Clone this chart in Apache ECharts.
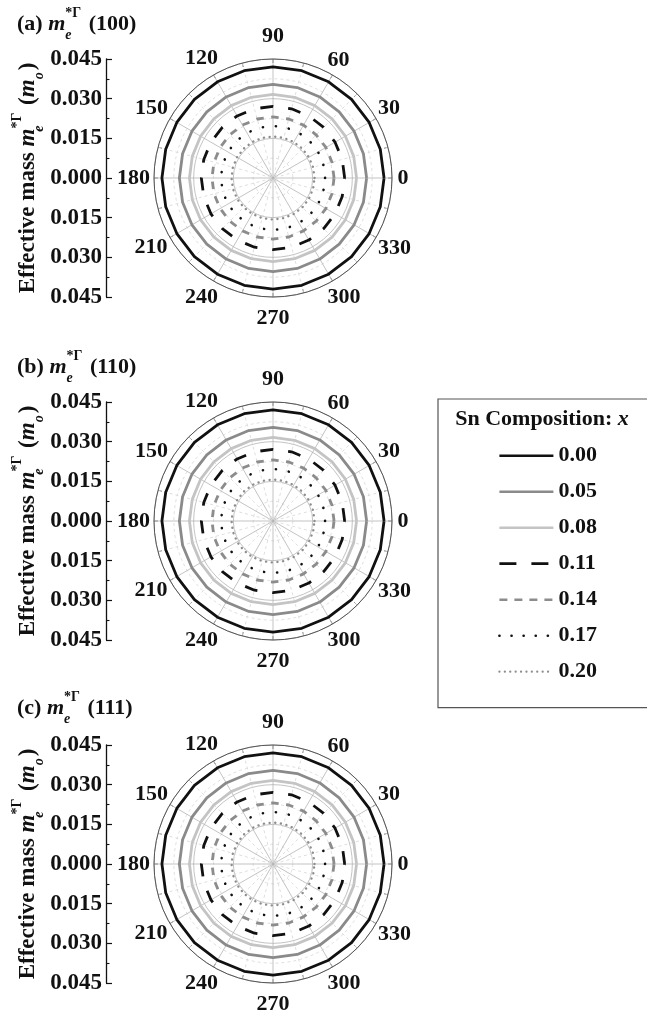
<!DOCTYPE html>
<html><head><meta charset="utf-8">
<script src="https://cdn.jsdelivr.net/npm/echarts@6/dist/echarts.min.js"></script>
<style>html,body{margin:0;padding:0;background:#fff}#c{width:647px;height:1018px}</style>
</head><body><div id="c"></div>
<script>
// ---------------- DATA ----------------
const angles = [0,15,30,45,60,75,90,105,120,135,150,165,180,195,210,225,240,255,270,285,300,315,330,345,360];
const compositions = ['0.00','0.05','0.08','0.11','0.14','0.17','0.20'];
const angleTickLabels = ['0','30','60','90','120','150','180','210','240','270','300','330'];
const radiusTickLabels = ['0.045','0.030','0.015','0.000','0.015','0.030','0.045'];
const panelTitles = ['(a)','(b)','(c)'];
const panelDirections = ['(100)','(110)','(111)'];

// (a) (100): effective mass vs angle for each Sn composition
const a_000 = [0.0420,0.0420,0.0420,0.0420,0.0420,0.0420,0.0420,0.0420,0.0420,0.0420,0.0420,0.0420,0.0420,0.0420,0.0420,0.0420,0.0420,0.0420,0.0420,0.0420,0.0420,0.0420,0.0420,0.0420,0.0420];
const a_005 = [0.0354,0.0354,0.0354,0.0354,0.0354,0.0354,0.0354,0.0354,0.0354,0.0354,0.0354,0.0354,0.0354,0.0354,0.0354,0.0354,0.0354,0.0354,0.0354,0.0354,0.0354,0.0354,0.0354,0.0354,0.0354];
const a_008 = [0.0316,0.0316,0.0316,0.0316,0.0316,0.0316,0.0316,0.0316,0.0316,0.0316,0.0316,0.0316,0.0316,0.0316,0.0316,0.0316,0.0316,0.0316,0.0316,0.0316,0.0316,0.0316,0.0316,0.0316,0.0316];
const a_011 = [0.0271,0.0271,0.0271,0.0271,0.0271,0.0271,0.0271,0.0271,0.0271,0.0271,0.0271,0.0271,0.0271,0.0271,0.0271,0.0271,0.0271,0.0271,0.0271,0.0271,0.0271,0.0271,0.0271,0.0271,0.0271];
const a_014 = [0.0231,0.0231,0.0231,0.0231,0.0231,0.0231,0.0231,0.0231,0.0231,0.0231,0.0231,0.0231,0.0231,0.0231,0.0231,0.0231,0.0231,0.0231,0.0231,0.0231,0.0231,0.0231,0.0231,0.0231,0.0231];
const a_017 = [0.0197,0.0197,0.0197,0.0197,0.0197,0.0197,0.0197,0.0197,0.0197,0.0197,0.0197,0.0197,0.0197,0.0197,0.0197,0.0197,0.0197,0.0197,0.0197,0.0197,0.0197,0.0197,0.0197,0.0197,0.0197];
const a_020 = [0.0157,0.0157,0.0157,0.0157,0.0157,0.0157,0.0157,0.0157,0.0157,0.0157,0.0157,0.0157,0.0157,0.0157,0.0157,0.0157,0.0157,0.0157,0.0157,0.0157,0.0157,0.0157,0.0157,0.0157,0.0157];
// (b) (110)
const b_000 = [0.0420,0.0420,0.0420,0.0420,0.0420,0.0420,0.0420,0.0420,0.0420,0.0420,0.0420,0.0420,0.0420,0.0420,0.0420,0.0420,0.0420,0.0420,0.0420,0.0420,0.0420,0.0420,0.0420,0.0420,0.0420];
const b_005 = [0.0354,0.0354,0.0354,0.0354,0.0354,0.0354,0.0354,0.0354,0.0354,0.0354,0.0354,0.0354,0.0354,0.0354,0.0354,0.0354,0.0354,0.0354,0.0354,0.0354,0.0354,0.0354,0.0354,0.0354,0.0354];
const b_008 = [0.0316,0.0316,0.0316,0.0316,0.0316,0.0316,0.0316,0.0316,0.0316,0.0316,0.0316,0.0316,0.0316,0.0316,0.0316,0.0316,0.0316,0.0316,0.0316,0.0316,0.0316,0.0316,0.0316,0.0316,0.0316];
const b_011 = [0.0271,0.0271,0.0271,0.0271,0.0271,0.0271,0.0271,0.0271,0.0271,0.0271,0.0271,0.0271,0.0271,0.0271,0.0271,0.0271,0.0271,0.0271,0.0271,0.0271,0.0271,0.0271,0.0271,0.0271,0.0271];
const b_014 = [0.0231,0.0231,0.0231,0.0231,0.0231,0.0231,0.0231,0.0231,0.0231,0.0231,0.0231,0.0231,0.0231,0.0231,0.0231,0.0231,0.0231,0.0231,0.0231,0.0231,0.0231,0.0231,0.0231,0.0231,0.0231];
const b_017 = [0.0197,0.0197,0.0197,0.0197,0.0197,0.0197,0.0197,0.0197,0.0197,0.0197,0.0197,0.0197,0.0197,0.0197,0.0197,0.0197,0.0197,0.0197,0.0197,0.0197,0.0197,0.0197,0.0197,0.0197,0.0197];
const b_020 = [0.0157,0.0157,0.0157,0.0157,0.0157,0.0157,0.0157,0.0157,0.0157,0.0157,0.0157,0.0157,0.0157,0.0157,0.0157,0.0157,0.0157,0.0157,0.0157,0.0157,0.0157,0.0157,0.0157,0.0157,0.0157];
// (c) (111)
const c_000 = [0.0420,0.0420,0.0420,0.0420,0.0420,0.0420,0.0420,0.0420,0.0420,0.0420,0.0420,0.0420,0.0420,0.0420,0.0420,0.0420,0.0420,0.0420,0.0420,0.0420,0.0420,0.0420,0.0420,0.0420,0.0420];
const c_005 = [0.0354,0.0354,0.0354,0.0354,0.0354,0.0354,0.0354,0.0354,0.0354,0.0354,0.0354,0.0354,0.0354,0.0354,0.0354,0.0354,0.0354,0.0354,0.0354,0.0354,0.0354,0.0354,0.0354,0.0354,0.0354];
const c_008 = [0.0316,0.0316,0.0316,0.0316,0.0316,0.0316,0.0316,0.0316,0.0316,0.0316,0.0316,0.0316,0.0316,0.0316,0.0316,0.0316,0.0316,0.0316,0.0316,0.0316,0.0316,0.0316,0.0316,0.0316,0.0316];
const c_011 = [0.0271,0.0271,0.0271,0.0271,0.0271,0.0271,0.0271,0.0271,0.0271,0.0271,0.0271,0.0271,0.0271,0.0271,0.0271,0.0271,0.0271,0.0271,0.0271,0.0271,0.0271,0.0271,0.0271,0.0271,0.0271];
const c_014 = [0.0231,0.0231,0.0231,0.0231,0.0231,0.0231,0.0231,0.0231,0.0231,0.0231,0.0231,0.0231,0.0231,0.0231,0.0231,0.0231,0.0231,0.0231,0.0231,0.0231,0.0231,0.0231,0.0231,0.0231,0.0231];
const c_017 = [0.0197,0.0197,0.0197,0.0197,0.0197,0.0197,0.0197,0.0197,0.0197,0.0197,0.0197,0.0197,0.0197,0.0197,0.0197,0.0197,0.0197,0.0197,0.0197,0.0197,0.0197,0.0197,0.0197,0.0197,0.0197];
const c_020 = [0.0157,0.0157,0.0157,0.0157,0.0157,0.0157,0.0157,0.0157,0.0157,0.0157,0.0157,0.0157,0.0157,0.0157,0.0157,0.0157,0.0157,0.0157,0.0157,0.0157,0.0157,0.0157,0.0157,0.0157,0.0157];

const panelSeries = [
  [a_000,a_005,a_008,a_011,a_014,a_017,a_020],
  [b_000,b_005,b_008,b_011,b_014,b_017,b_020],
  [c_000,c_005,c_008,c_011,c_014,c_017,c_020]
];

// ---------------- STYLE / LAYOUT ----------------
const FONT = '"Liberation Serif","Times New Roman",serif';
const RMAX = 0.045;
const panelCenters = [[273,178],[273,521],[273,864]];
const panelRadius = 119;
const titleTops = [6, 349, 690];

const lineStyles = [
  {color:'#111111', width:2.8, type:'solid'},
  {color:'#8a8a8a', width:2.8, type:'solid'},
  {color:'#c4c4c4', width:2.8, type:'solid'},
  {color:'#111111', width:2.8, type:[13,15]},
  {color:'#8c8c8c', width:2.8, type:[7.5,7.5]},
  {color:'#111111', width:2.6, type:[0.1,13], cap:'round'},
  {color:'#8e8e8e', width:2.4, type:[0.1,5.6], cap:'round'}
];
const legendLineStyles = [
  {color:'#111111', width:2.6, type:'solid'},
  {color:'#8a8a8a', width:2.6, type:'solid'},
  {color:'#c4c4c4', width:2.6, type:'solid'},
  {color:'#111111', width:2.8, type:[17,15]},
  {color:'#8c8c8c', width:2.6, type:[8,7]},
  {color:'#111111', width:2.6, type:[0.1,12], cap:'round'},
  {color:'#8e8e8e', width:2.2, type:[0.1,5.3], cap:'round'}
];

// per-label padding [top,right,bottom,left] to place angle labels as in the figure
const anglePad = {
  0:[0,0,0,15.5], 30:[0,0,4.5,10.6], 60:[0,0,12.6,0], 90:[0,0,21.5,0],
  120:[0,0.5,14,0], 150:[0,10.6,4.5,0], 180:[0,14,0,0], 210:[4,11,0,0],
  240:[14,0.5,0,0], 270:[20,0,0,0], 300:[13.6,0,0,0], 330:[4.5,0,0,10.6]
};
const angleRich = {};
angleTickLabels.forEach(v => {
  angleRich['p' + v] = {fontFamily:FONT, fontWeight:'bold', fontSize:22, color:'#111', padding:anglePad[v]};
});

const bold = {fontFamily:FONT, fontWeight:'bold', fontSize:22, color:'#111'};
const titleRich = {
  n: Object.assign({}, bold, {lineHeight:36}),
  m: Object.assign({}, bold, {fontStyle:'italic', lineHeight:36}),
  e: {fontFamily:FONT, fontWeight:'bold', fontStyle:'italic', fontSize:14, color:'#111', verticalAlign:'bottom', width:0, align:'left', lineHeight:14},
  s: {fontFamily:FONT, fontWeight:'bold', fontSize:14, color:'#111', verticalAlign:'top', lineHeight:14, padding:[0,2,0,0]},
  o: {fontFamily:FONT, fontWeight:'bold', fontStyle:'italic', fontSize:14, color:'#111', verticalAlign:'bottom', lineHeight:14, padding:[0,2,0,0]}
};

const option = {
  animation:false,
  backgroundColor:'#fff',
  title: [],
  polar: [], angleAxis: [], radiusAxis: [],
  grid: [], xAxis: [], yAxis: [],
  legend: {
    orient:'vertical', left:438, top:399,
    padding:[45.7, 120, 25, 60],
    itemWidth:54, itemHeight:14, itemGap:14,
    borderColor:'#555', borderWidth:1.2,
    itemStyle:{opacity:0, color:'rgba(0,0,0,0)', borderWidth:0},
    textStyle:{fontFamily:FONT, fontWeight:'bold', fontSize:22, color:'#111'},
    data: compositions.map((c,i) => ({name:c, lineStyle:legendLineStyles[i], itemStyle:{opacity:0, color:'rgba(0,0,0,0)', borderWidth:0}}))
  },
  series: []
};

// legend heading
option.title.push({
  text:'{n|Sn Composition: }{x|x}', left:542, top:408, padding:0, textAlign:'center',
  textStyle:{rich:{n:Object.assign({}, bold), x:Object.assign({}, bold, {fontStyle:'italic'})}}
});

panelCenters.forEach((ctr, p) => {
  // panel title
  option.title.push({
    text:'{n|' + panelTitles[p] + ' }{m|m}{e|e}{s|*Γ}{n| ' + panelDirections[p] + '}',
    left:17, top:titleTops[p], padding:0,
    textStyle:{rich:titleRich}
  });
  option.polar.push({center:ctr, radius:panelRadius});
  option.angleAxis.push({
    polarIndex:p, type:'value', min:0, max:360, interval:30, startAngle:0, clockwise:false,
    axisLine:{show:true, lineStyle:{color:'#555', width:1}},
    axisTick:{show:true, inside:true, length:4, lineStyle:{color:'#777', width:1}},
    minorTick:{show:true, splitNumber:2, length:4, lineStyle:{color:'#777', width:1}},
    splitLine:{show:true, lineStyle:{color:'#b4b4b4', width:0.8}},
    minorSplitLine:{show:true, lineStyle:{color:'#d6d6d6', width:0.8, type:[3,3]}},
    axisLabel:{show:true, margin:-10,
      formatter:(v) => v >= 360 ? '' : '{p' + v + '|' + angleTickLabels[Math.round(v/30)] + '}',
      rich:angleRich}
  });
  option.radiusAxis.push({
    polarIndex:p, type:'value', min:0, max:RMAX, interval:0.015,
    axisLine:{show:false}, axisTick:{show:false}, axisLabel:{show:false},
    splitLine:{show:true, lineStyle:{color:'#b4b4b4', width:0.8}},
    minorTick:{show:false, splitNumber:2},
    minorSplitLine:{show:true, lineStyle:{color:'#d6d6d6', width:0.8, type:[3,3]}}
  });
  // left linear scale of effective mass
  option.grid.push({left:106, top:ctr[1]-panelRadius, width:10, height:panelRadius*2});
  option.xAxis.push({gridIndex:p, type:'value', show:false});
  option.yAxis.push({
    gridIndex:p, type:'value', min:-RMAX, max:RMAX, interval:0.015,
    axisLine:{show:true, lineStyle:{color:'#111', width:1.3}},
    axisTick:{show:true, inside:true, length:6, lineStyle:{color:'#111', width:1.2}},
    minorTick:{show:true, splitNumber:2, length:3.5, lineStyle:{color:'#111', width:1.1}},
    splitLine:{show:false},
    axisLabel:{margin:4, fontFamily:FONT, fontWeight:'bold', fontSize:23, color:'#111',
      formatter:(v, i) => radiusTickLabels[radiusTickLabels.length - 1 - i]},
    name:'{t|Effective mass }{m|m}{e|e}{s|*Γ}{t| (}{m|m}{o|o}{t|)}',
    nameLocation:'middle', nameGap:60, nameRotate:90,
    nameTextStyle:{rich:{
      t:Object.assign({}, bold, {fontSize:23, lineHeight:36}),
      m:Object.assign({}, bold, {fontSize:23, fontStyle:'italic', lineHeight:36}),
      e:titleRich.e, s:titleRich.s, o:titleRich.o
    }}
  });
  panelSeries[p].forEach((vals, k) => {
    option.series.push({
      name:compositions[k], type:'line', coordinateSystem:'polar', polarIndex:p,
      symbol:'none', smooth:false, silent:true,
      lineStyle:lineStyles[k], itemStyle:{color:lineStyles[k].color},
      data: vals.map((r, j) => [r, angles[j]])
    });
  });
});

const chart = echarts.init(document.getElementById('c'), null, {renderer:'canvas'});
chart.setOption(option);
</script>
</body></html>
